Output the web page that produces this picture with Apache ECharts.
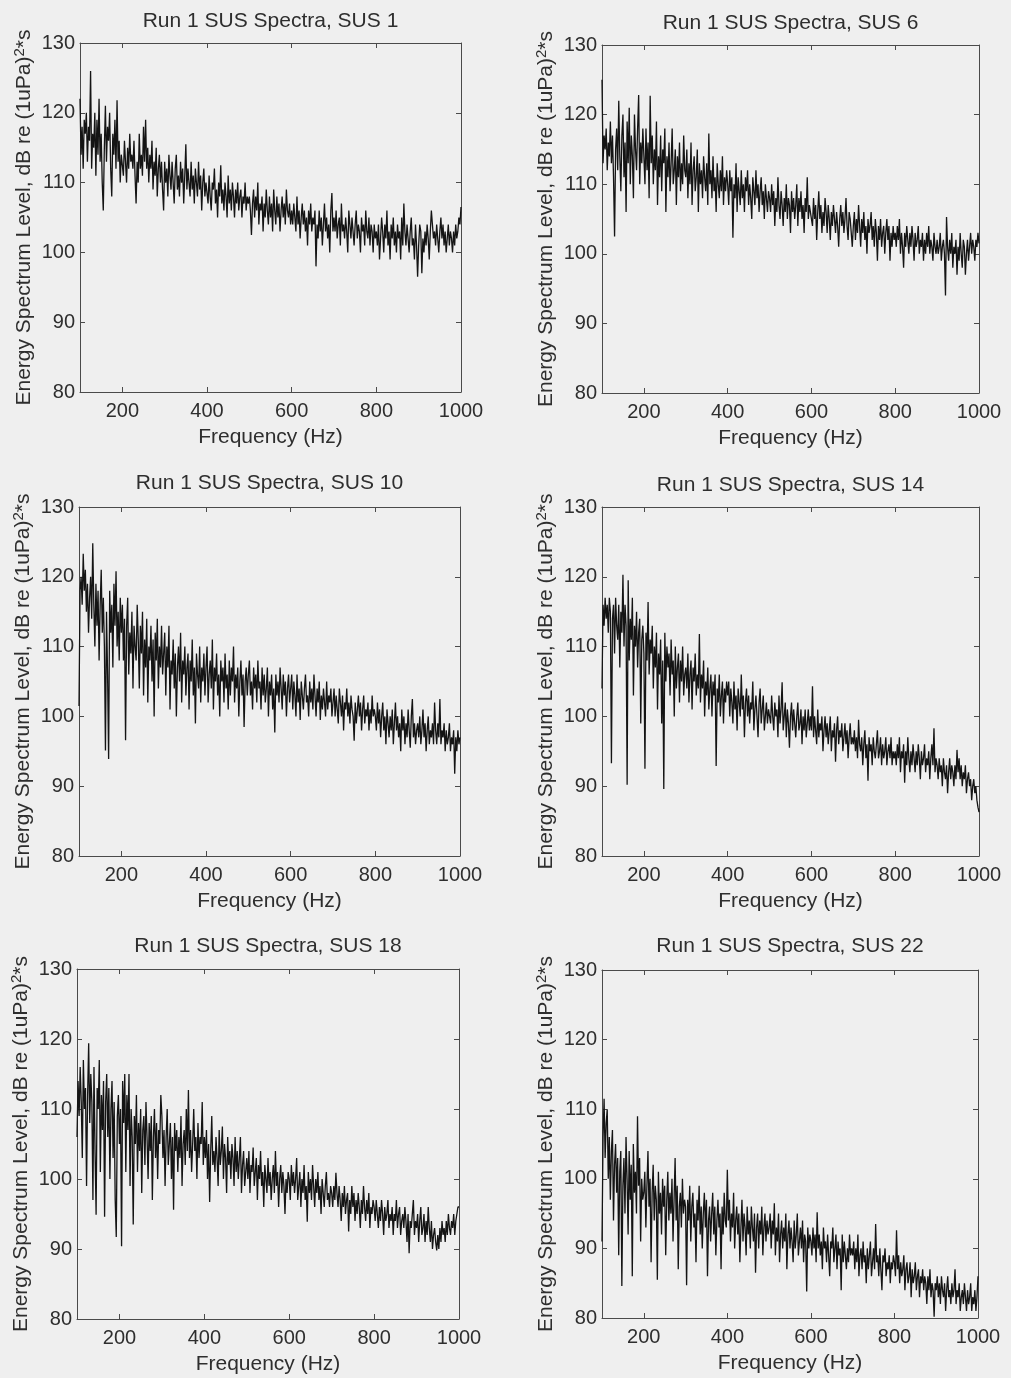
<!DOCTYPE html>
<html>
<head>
<meta charset="utf-8">
<title>Run 1 SUS Spectra</title>
<script src="https://cdn.jsdelivr.net/npm/echarts@6/dist/echarts.min.js"></script>
<style>
  html, body { margin: 0; padding: 0; background: #efefef; }
  #chart { width: 1011px; height: 1378px; }
</style>
</head>
<body>
<div id="chart"></div>
<script>
// Energy spectrum levels (dB re (1uPa)^2*s), one value every 2.5 Hz from 100 Hz to 1000 Hz.
// Each line below covers 50 Hz (two groups of 10 samples); two lines make 100 Hz.
const FREQ_START = 100;
const FREQ_STEP = 2.5;

const sus1 = [
  122,114,118,112,119,117,120,113,118,116, 126,112,117,115,120,111,119,114,122,113,
  117,110,106,115,121,113,118,116,120,112, 108,117,114,119,112,121.8,113,116,110,114,
  114,111,116,113,110,115,112,117,113,114, 112,116,111,107,113,110,117,112,114,111,
  118,113,119,112,115,110,114,112,116,109, 113,111,115,108,112,114,110,113,109,106,
  113,110,112,108,114,111,109,113,110,107, 112,114,109,111,108,113,110,112,107,111,
  115.5,109,112,110,108,113,109,111,107,112, 110,108,113,109,111,106,110,112,108,110,
  110,107,111,108,106,110,109,112,107,109, 105,110,108,112.5,107,109,106,110,108,105,
  111,107,109,106,110,108,105,109,107,110, 106,108,109,105,108,107,110,106,108,107,
  108,106,102.5,107,109,105,108,106,110,104, 107,106,108,103,107,105,109,106,104,108,
  105,107,103,109,106,104,108,105,107,103, 106,108,105,107,104,109,106,105,107,104,
  106,104,107,105,103,108,104,106,102,105, 107,104,106,103,105,101,106,104,107,103,
  105,104,106,98,104,102,106,103,105,101, 104,107,103,105,102,104,100,106,108.5,103,
  105,103,106,102,104,105,101,107,103,104, 102,105,103,100,106,104,102,105,103,101,
  104,106,102,104,103,100,105,103,104,101, 106,103,102,105,101,104,103,100,104,102,
  103,101,104,99,102,105,103,100,104,102, 106,101,103,99,104,102,105,101,103,100,
  104,102,103,99,105,101,107,103,101,104, 102,100,103,105,101,102,99,104,101,96.5,
  101,104,103,97,102,100,103,101,104,102, 99,103,106,104,102,103,101,104,102,100,
  103,105,102,104,101,103,100,102,104,101, 103,102,100,103,101,104,102,103,105,104,
  106.5
];

const sus6 = [
  125,113,117,115,118,112,116,114,119,113, 117,111,102.5,115,118,112,122,114,109,117,
  120,111,116,106,119,113,121,110,117,114, 108,120,115,112,118,122.8,110,116,113,118,
  114,110,118,112,116,108,122.7,113,117,110, 115,112,119,107,114,111,117,109,115,113,
  118,106,114,111,116,109,113,118,110,112, 115,107,114,111,116,109,113,110,117,112,
  111,115,108,113,110,116,107,112,114,109, 111,115,106,113,110,112,108,114,111,109,
  113,107,117.3,110,112,108,114,109,111,106, 113,110,108,112,109,114,107,111,109,112,
  110,107,112,109,111,102.3,110,108,113,106, 111,109,107,112,108,110,106,111,109,112,
  107,110,108,105,111,109,107,112,108,110, 106,109,111,107,109,105,110,108,106,109,
  108,106,110,107,109,104,108,106,111,107, 105,109,107,104,108,106,110,105,108,107,
  103,109,106,108,105,107,110,104,108,106, 109,105,107,103,108,106,111,105,107,106,
  106,104,108,105,107,102,106,109,105,107, 103,106,104,108,106,103,107,105,102,106,
  104,107,105,103,106,104,101,105,107,104, 106,103,105,108,104,102,106,105,103,101,
  104,106,102,105,103,107,104,101,105,103, 106,102,104,100,105,103,104,106,102,104,
  101,105,103,99,104,102,105,101,103,104, 100,103,105,102,104,99,103,101,104,102,
  103,101,104,102,105,100,103,101,98,103, 101,104,102,100,103,101,104,102,99,103,
  101,102,104,100,102,101,103,99,102,100, 103,101,104,100,102,101,99,103,101,100,
  102,100,101,103,99,101,102,100,94,105.3, 101,99,102,100,103,98,101,100,102,97,
  101,99,103,100,98,102,101,97,100,102, 99,101,103,100,102,101,99,102,101,103,
  101.5
];

const sus10 = [
  101.5,118,120,116,123.3,118,121,115,119,112, 117,120,114,124.8,116,110,119,113,118,108,
  116,121,112,117,110,95.1,115,106,93.9,118, 112,116,107,119,113,120.8,110,115,108,117,
  112,116,108,114,96.6,113,117,106,112,109, 115,104,113,110,108,116,111,104,113,109,
  115,103,111,107,114,102,110,108,113,105, 111,100,112,108,114,104,110,107,113,106,
  109,112,103,110,107,113,101,108,106,111, 104,109,100,107,110,105,112,102,108,106,
  110,103,107,109,101,108,105,111,103,107, 99,109,106,104,110,102,107,105,109,103,
  107,110,102,106,108,104,111,101,107,105, 109,103,106,100,108,105,107,102,109,104,
  106,101,108,103,107,105,110,102,106,104, 107,100,105,108,103,106,98.5,105,107,103,
  106,108,103,105,101,107,104,106,102,108, 104,105,101,107,103,106,102,104,107,100,
  105,103,106,101,104,97.7,106,103,105,102, 107,104,101,106,103,105,100,104,106,102,
  104,106,101,105,103,100,106,102,104,99.5, 105,103,101,104,106,102,103,100,105,102,
  104,101,106,103,100,104,102,105,99.5,103, 101,104,102,100,105,101,103,102,104,100,
  102,104,100,103,101,99,104,102,100,103, 98,102,101,104,100,102,99,103,101,100,
  96.5,102,99,101,103,100,102,98,101,103, 99,101,100,102,98,101,99,103,100,101,
  100,98,102,99,101,97,100,102,98,100, 96,101,99,97,100,98,101,96,99,102,
  98,100,97,99,95,101,98,100,96,99, 97,101,98,95.5,100,102.5,97,99,96,98,
  99,97,100,96,98,101,97,99,95,98, 100,96,98,97,99,96,102,98,96,99,
  97,102.5,96,98,97,99,95,98,96,97, 99,95,97,96,98,91.8,97,95,98,96,
  97
];

const sus14 = [
  104,116,113,117,114,116,112,117,115,93.3, 114,116,109,117,113,111,116,107,115,112,
  120.3,110,116,113,90.2,119.5,108,114,111,117, 103,113,110,115,107,112,114,99,111,113,
  109,92.5,112,108,116.4,106,111,109,113,104, 110,107,112,101,109,106,111,99,108,89.6,
  112,105,110,107,109,103,111,106,108,100, 110,104,107,109,102,108,105,110,103,106,
  107,104,109,102,106,108,101,107,105,109, 103,106,104,111.8,102,106,104,108,100,105,
  103,107,101,104,106,100,105,103,106,92.9, 104,102,106,100,103,105,99,104,102,105,
  103,105,100,104,102,99,105,101,103,98, 104,102,100,106,101,103,97,102,104,100,
  103,99,102,101,105,98,101,103,100,97, 102,104,99,101,103,98,100,102,99,101,
  101,99,103,100,98,102,100,101,97,103, 99,101,104.9,98,100,102,97,101,99,95.5,
  100,102,98,101,99,97,100,102,98,99, 101,96,100,98,101,97,99,101,98,100,
  98,104.3,97,100,98,96,101,97,99,98, 100,95,98,100,97,99,96,98,100,95,
  98,97,99,93.5,98,100,96,98,97,99, 95,97,99,96,98,94,97,99,96,97,
  96,98,95,97,94,99.5,96,95,97,93, 96,98,94,96,90.8,97,95,96,93,97,
  95,94,96,98,94,95,97,93,96,94, 95,97,93,95,96,94,97,93,95,94,
  95,93,96,94,97,92,95,94,96,90.5, 95,93,97,94,92,95,93,96,94,92,
  95,93,96,94,91,95,93,94,96,92, 94,93,95,91,94,96,93,98.3,92,94,
  93,91,94,92,93,90,94,92,91,93, 89,92,94,91,93,92,90,93,91,95.2,
  92,94,91,93,90,92,91,93,89,91, 92,90,91,88,90,91,89,90,88,87,
  86.3
];

const sus18 = [
  106,114,109,116,111,103,117,110,113,99, 112,119.4,108,115,111,97,116,104,94.9,113,
  110,117,101,112,107,114,94.6,111,115,106, 113,100,110,114,103,111,97,91.7,109,112,
  105,110,90.4,114,108,115,101,112,107,115, 99,110,106,93.5,109,105,112,101,108,104,
  110,98,107,109,102,111,106,100,108,104, 109,97,106,110,103,108,100,107,105,112,
  109,103,107,99,106,110,102,105,108,100, 106,95.6,108,104,107,101,106,103,109,99,
  105,107,102,110,104,112.7,103,107,101,105, 110,104,106,100,108,103,106,105,111,102,
  106,103,107,100,105,96.7,104,109,102,104, 101,106,103,99,107,102,104,107.5,100,105,
  103,98,106,102,104,100,105,103,99,106, 101,104,100,103,106,98,102,104,99,101,
  103,100,104,98,102,101,104.5,99,101,103, 97,102,100,104,99,101,96,102,100,98,
  103,99,101,97,100,102,98,104,99,101, 96,100,102,98,101,99,95,100,98,101,
  100,97,102,99,101,98,100,103,97,99, 101,96,100,98,102,97,99,93.9,101,98,
  100,97,102,99,96,100,98,101,97,99, 95,100,98,96,99,101,97,98,96,99,
  98,96,99,97,100.9,98,96,99,97,94, 98,96,99,95,97,98,92.5,97,95,99,
  96,98,94,97,95,98,96,93,97,95, 99,96,94,97,95,98,93,96,95,97,
  96,94,97,95,93,96,94,97,95,92, 96,94,95,97,93,95,94,96,92,95,
  94,97,93,95,96,92,94,95,93,96, 94,91,95,89.4,94,93,95,97,92,94,
  93,95,91,94,96,92,93,95,91,94, 92,96,93,91,94,90,92,93,91,89.8,
  92,90,93,91,94,92,93,91,94,92, 95,93,92,94,93,95,92,94,95,96,
  96
];

const sus22 = [
  91,106,111.5,103,108,110,100,106,97,104, 107,94,102,105,98,103,89,101,104,84.6,
  99,103,95,106,100,92,104,97,102,86, 105,98,101,95,109,99,103,91,100,97,
  98,101,93,99,104,96,100,88,98,102, 94,99,97,85.5,101,95,98,92,100,96,
  99,89,97,101,94,98,95,100,91,97, 103,94,99,87,96,98,93,100,95,97,
  96,84.7,97,94,99,91,96,98,93,95, 88,97,94,99,92,96,90,95,98,93,
  97,86,94,96,91,95,98,92,96,89, 94,97,93,95,87,96,92,98,94,93,
  101.3,94,97,91,95,93,98,90,94,96, 92,95,88,93,97,91,95,93,89,96,
  92,94,90,96,93,91,95,86.5,93,95, 90,94,92,96,89,93,95,91,94,92,
  93,95,90,94,92,96.5,89,93,91,95, 88,92,94,90,93,91,95,87,92,94,
  90,93,91,88,94,90,92,95,89,91, 93,90,94,88,92,91,83.8,93,90,92,
  91,89,93,90,92,88,95.2,90,92,89, 91,87,93,90,91,88,92,89,86,91,
  90,93,88,90,92,87,91,89,90,84, 92,88,91,89,87,90,88,92,89,90,
  89,91,87,90,88,92,86,89,90,87, 91,88,89,85,90,87,89,91,86,88,
  90,87,93.5,88,89,86,90,87,84,89, 88,90,86,88,87,89,85,88,87,89,
  88,86,92.6,87,89,85,88,86,87,89, 84,87,88,85,86,88,83,87,85,86,
  88,84,86,87,83,86,85,87,84,86, 85,82,86,84,87,83,85,84,80.2,85,
  84,86,83,85,82,86,84,83,85,81, 84,86,83,84,82,85,83,84,87,82,
  84,83,85,81,83,84,82,85,83,81, 84,82,83,85,81,83,82,84,81,83,
  86
];

const panelTitles = [
  'Run 1 SUS Spectra, SUS 1',
  'Run 1 SUS Spectra, SUS 6',
  'Run 1 SUS Spectra, SUS 10',
  'Run 1 SUS Spectra, SUS 14',
  'Run 1 SUS Spectra, SUS 18',
  'Run 1 SUS Spectra, SUS 22'
];
const panelSeries = [sus1, sus6, sus10, sus14, sus18, sus22];

const xTickValues = [200, 400, 600, 800, 1000];
const xLabel = 'Frequency (Hz)';
const yLabel = 'Energy Spectrum Level, dB re (1uPa){sup|2}*s';

// plot-box placement for the 3 x 2 layout
const boxes = [
  { left: 80,  top: 43,  width: 381, height: 349 },
  { left: 602, top: 45,  width: 377, height: 348 },
  { left: 79,  top: 507, width: 381, height: 349 },
  { left: 602, top: 507, width: 377, height: 349 },
  { left: 77,  top: 969, width: 382, height: 350 },
  { left: 602, top: 970, width: 376, height: 348 }
];
const titleTops = [11, 12.5, 472.5, 474.5, 935.5, 935.5];

const FONT = 'Liberation Sans, Arial, sans-serif';
const TEXT = '#2e2e2e';
const AXIS = '#4a4a4a';

function toPairs(values) {
  return values.map((v, i) => [FREQ_START + FREQ_STEP * i, v]);
}

const option = {
  backgroundColor: '#efefef',
  animation: false,
  title: [], grid: [], xAxis: [], yAxis: [], series: []
};

boxes.forEach((b, i) => {
  option.grid.push({ left: b.left, top: b.top, width: b.width, height: b.height, containLabel: false });
  option.title.push({
    text: panelTitles[i],
    left: b.left + b.width / 2,
    top: titleTops[i],
    textAlign: 'center',
    padding: 0,
    textStyle: { fontFamily: FONT, fontSize: 21, fontWeight: 'normal', color: TEXT }
  });
  const lineStyle = { show: true, lineStyle: { color: AXIS, width: 1 } };
  const tick = { show: true, inside: true, length: 5, customValues: xTickValues, lineStyle: { color: AXIS } };
  option.xAxis.push({
    gridIndex: i, type: 'value', position: 'bottom', min: 100, max: 1000,
    axisLine: lineStyle, axisTick: tick, splitLine: { show: false },
    axisLabel: {
      customValues: xTickValues, margin: 9, fontFamily: FONT, fontSize: 20, color: TEXT,
      formatter: (v) => String(v)
    },
    name: xLabel, nameLocation: 'middle', nameGap: 35,
    nameTextStyle: { fontFamily: FONT, fontSize: 21, color: TEXT }
  });
  option.xAxis.push({
    gridIndex: i, type: 'value', position: 'top', min: 100, max: 1000,
    axisLine: lineStyle, axisTick: tick, splitLine: { show: false },
    axisLabel: { show: false }
  });
  const ytick = { show: true, inside: true, length: 5, lineStyle: { color: AXIS } };
  option.yAxis.push({
    gridIndex: i, type: 'value', position: 'left', min: 80, max: 130, interval: 10,
    axisLine: lineStyle, axisTick: ytick, splitLine: { show: false },
    axisLabel: { margin: 5, fontFamily: FONT, fontSize: 20, color: TEXT },
    name: yLabel, nameLocation: 'middle', nameGap: 44, nameRotate: 90,
    nameTextStyle: {
      fontFamily: FONT, fontSize: 21, color: TEXT,
      rich: { sup: { fontFamily: FONT, fontSize: 15, color: TEXT, verticalAlign: 'bottom', padding: [0, 0, 9, 0] } }
    }
  });
  option.yAxis.push({
    gridIndex: i, type: 'value', position: 'right', min: 80, max: 130, interval: 10,
    axisLine: lineStyle, axisTick: ytick, splitLine: { show: false },
    axisLabel: { show: false }
  });
  option.series.push({
    type: 'line',
    xAxisIndex: 2 * i, yAxisIndex: 2 * i,
    data: toPairs(panelSeries[i]),
    showSymbol: false,
    lineStyle: { color: '#141414', width: 1.3 },
    silent: true
  });
});

const chart = echarts.init(document.getElementById('chart'), null, { renderer: 'canvas' });
chart.setOption(option);
</script>
</body>
</html>
